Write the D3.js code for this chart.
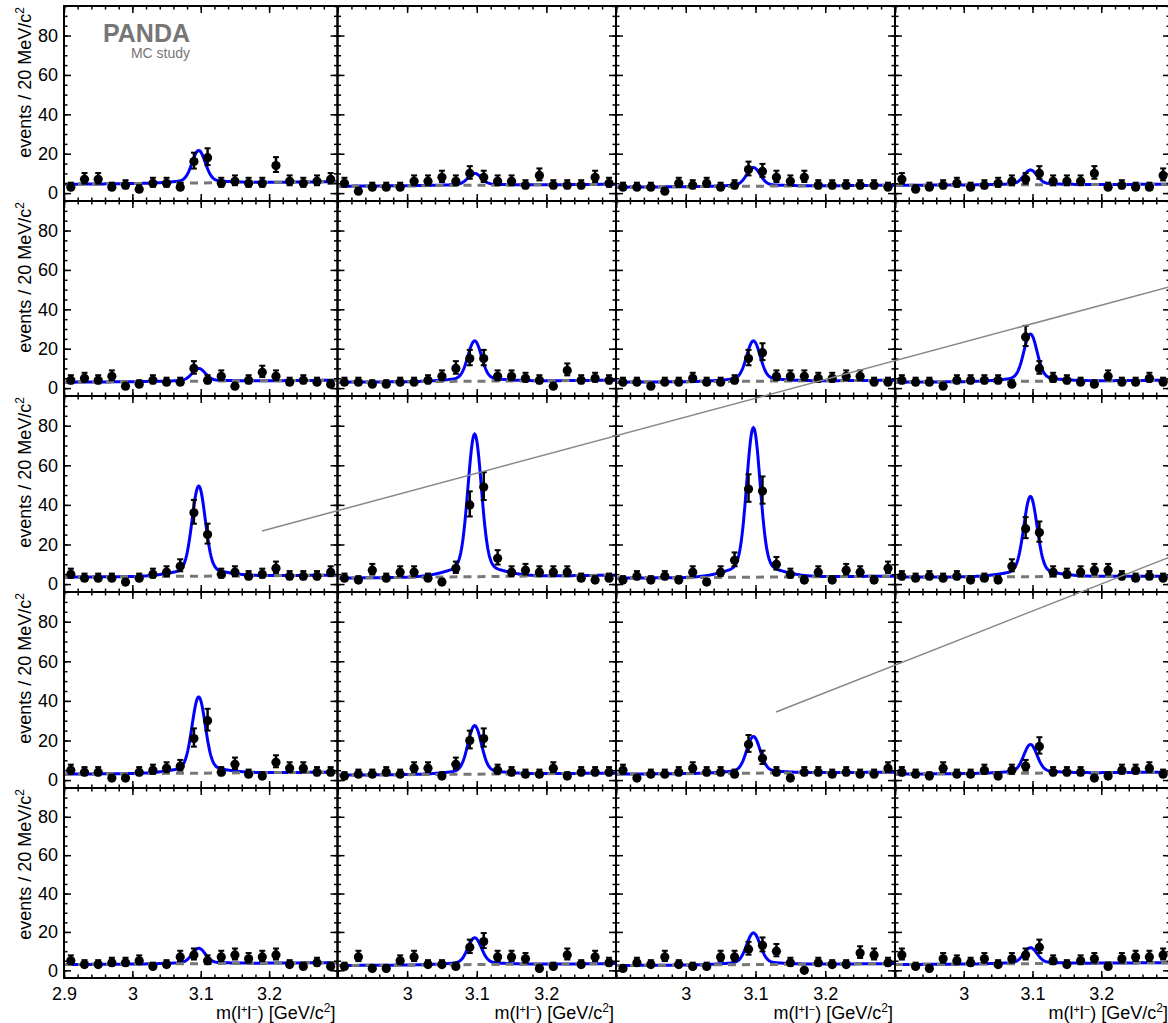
<!DOCTYPE html>
<html>
<head>
<meta charset="utf-8">
<script src="https://cdn.jsdelivr.net/npm/d3@7"></script>
<style>
  body { margin: 0; background: #fff; }
  svg { display: block; }
</style>
</head>
<body>
<div id="chart"></div>
<script>

/*******************************/
/*        Chart data           */
/*******************************/
// bin centres, 20 MeV bins from 2.9 to 3.3 GeV/c^2
const binCenters = [2.91, 2.93, 2.95, 2.97, 2.99, 3.01, 3.03, 3.05, 3.07, 3.09,
                    3.11, 3.13, 3.15, 3.17, 3.19, 3.21, 3.23, 3.25, 3.27, 3.29];

// event counts, one array per column, one block per row
const countsRow1 = [
  [3, 7, 7, 3, 4, 2, 5, 5, 3, 16, 18, 5, 6, 5, 5, 14, 6, 5, 6, 7],
  [5, 1, 3, 3, 3, 6, 6, 8, 6, 10, 8, 6, 6, 4, 9, 4, 4, 4, 8, 5],
  [3, 3, 3, 1, 5, 4, 5, 3, 4, 12, 11, 8, 6, 8, 4, 4, 4, 4, 4, 3],
  [7, 2, 3, 4, 5, 3, 4, 5, 6, 7, 10, 6, 6, 6, 10, 3, 4, 3, 3, 9]
];
const countsRow2 = [
  [4, 5, 4, 6, 1, 2, 4, 3, 3, 10, 4, 6, 1, 4, 8, 6, 3, 4, 3, 2],
  [3, 3, 2, 2, 3, 3, 4, 6, 10, 15, 15, 6, 6, 5, 4, 1, 9, 4, 5, 4],
  [3, 3, 1, 3, 3, 5, 3, 3, 4, 15, 18, 6, 6, 6, 5, 5, 6, 6, 3, 3],
  [4, 3, 3, 1, 4, 4, 4, 4, 2, 26, 10, 5, 4, 3, 2, 6, 3, 3, 5, 3]
];
const countsRow3 = [
  [5, 3, 3, 3, 1, 3, 5, 6, 9, 36, 25, 5, 6, 4, 5, 8, 4, 4, 4, 6],
  [3, 2, 7, 3, 6, 6, 3, 1, 8, 40, 49, 13, 6, 7, 6, 6, 6, 3, 2, 3],
  [2, 4, 2, 4, 2, 6, 1, 6, 12, 48, 47, 10, 5, 2, 6, 2, 7, 6, 2, 8],
  [4, 3, 4, 3, 4, 2, 3, 2, 9, 28, 26, 6, 5, 6, 7, 7, 4, 3, 4, 3]
];
const countsRow4 = [
  [5, 4, 4, 1, 1, 4, 5, 6, 7, 21, 30, 4, 8, 3, 2, 9, 6, 6, 4, 4],
  [2, 3, 3, 4, 3, 6, 6, 2, 8, 20, 21, 5, 4, 3, 3, 6, 2, 4, 4, 4],
  [5, 1, 3, 3, 4, 6, 4, 4, 3, 18, 11, 4, 1, 4, 4, 3, 4, 3, 3, 6],
  [4, 3, 2, 6, 3, 3, 5, 2, 5, 7, 17, 4, 4, 4, 1, 2, 5, 5, 6, 3]
];
const countsRow5 = [
  [5, 3, 3, 4, 4, 5, 2, 3, 7, 8, 5, 7, 8, 6, 7, 8, 3, 2, 4, 2],
  [2, 7, 1, 1, 5, 7, 3, 3, 2, 12, 15, 7, 7, 6, 1, 2, 8, 3, 7, 4],
  [1, 4, 3, 7, 3, 2, 2, 7, 7, 11, 13, 10, 4, 0, 4, 3, 3, 9, 8, 4],
  [8, 2, 1, 6, 5, 4, 6, 3, 6, 8, 12, 5, 3, 5, 6, 2, 6, 7, 7, 8]
];

// fitted signal amplitude above background (per row, per column)
const peakAmplitude = [
  [16.5, 6, 9.5, 7.5],
  [6.5, 20.5, 20.5, 24],
  [45.5, 72, 75.5, 40.5],
  [38.5, 24.5, 18.5, 14.5],
  [8, 14, 16.5, 8.3]
];
// linear background at m = 2.9 and m = 3.3
const bkgLeft = [
  [4.5, 3.5, 3, 4],
  [3, 3, 3, 3],
  [3.5, 3, 3, 3.5],
  [3, 2.5, 3, 3],
  [3, 2.5, 2.5, 3]
];
const bkgRight = [
  [5.8, 4.5, 4, 4.5],
  [4, 4, 4, 4],
  [4.5, 4.5, 4, 4],
  [4, 3.5, 4, 4],
  [4, 3.5, 3.5, 4]
];

// signal shape (double gaussian at the J/psi mass)
const jpsiMass = 3.097;
const sigmaCore = 0.0095;
const sigmaTail = 0.035;
const tailFraction = 0.08;

// ticks
const xTicksMajor = [2.9, 3.0, 3.1, 3.2, 3.3];
const xTickLabels = ["2.9", "3", "3.1", "3.2", ""];
const yTicksMajor = [0, 20, 40, 60, 80];
const xDomain = [2.9, 3.3];
const yDomain = [-4, 95];


/*******************************/
/*    Declare the constants    */
/*******************************/
const width = 1168;
const height = 1023;
const fontFamily = "'Liberation Sans', Arial, Helvetica, sans-serif";
const colLeft  = [64, 337.5, 616, 895];
const colRight = [337.5, 616, 895, 1170];
const rowTop    = [6, 201, 396, 592, 788];
const rowBottom = [201, 396, 592, 788, 978];
const lastRow = 4;

const xTicksMinor = d3.range(0, 21).map(i => 2.9 + 0.02 * i);
const yTicksMinor = d3.range(0, 96, 5);
const curveSamples = d3.range(0, 401).map(i => 2.9 + 0.001 * i);

// stray grey lines that sit on top of the figure
const overlayLines = [
  [262, 531, 1180, 284],
  [776, 712, 1180, 553]
];


/*******************************/
/*    Append the containers    */
/*******************************/
const svg = d3.select("#chart")
  .append("svg")
    .attr("width", width)
    .attr("height", height)
    .attr("viewBox", `0 0 ${width} ${height}`)
    .style("font-family", fontFamily);

svg.append("rect")
  .attr("width", width)
  .attr("height", height)
  .attr("fill", "#fff");


const styleAxis = (g) => {
  g.attr("font-family", null).attr("font-size", null);
  g.select(".domain").remove();
  g.selectAll(".tick line")
    .attr("stroke", "#000")
    .attr("stroke-width", 1.5);
  g.selectAll(".tick text")
    .attr("fill", "#000")
    .style("font-size", "18px");
};

const poissonLow = n => n === 0 ? 0 : n + 0.5 - Math.sqrt(n + 0.25);
const poissonHigh = n => n + 0.5 + Math.sqrt(n + 0.25);


/*******************************/
/*        Draw a panel         */
/*******************************/
const drawPanel = (r, c, counts) => {
  const xScale = d3.scaleLinear()
    .domain(xDomain)
    .range([colLeft[c], colRight[c]]);
  const yScale = d3.scaleLinear()
    .domain(yDomain)
    .range([rowBottom[r], rowTop[r]]);

  const panel = svg.append("g").attr("class", `panel r${r} c${c}`);

  const amp = peakAmplitude[r][c];
  const bL = bkgLeft[r][c];
  const bR = bkgRight[r][c];
  const background = m => bL + (bR - bL) * (m - xDomain[0]) / (xDomain[1] - xDomain[0]);
  const fit = m => {
    const d = m - jpsiMass;
    return background(m) + amp * ((1 - tailFraction) * Math.exp(-d * d / (2 * sigmaCore * sigmaCore))
                                 + tailFraction * Math.exp(-d * d / (2 * sigmaTail * sigmaTail)));
  };

  // fit curve
  panel.append("path")
    .datum(curveSamples)
    .attr("d", d3.line().x(d => xScale(d)).y(d => yScale(fit(d))))
    .attr("fill", "none")
    .attr("stroke", "#0000ff")
    .attr("stroke-width", 3);

  // background component
  panel.append("path")
    .datum(xDomain)
    .attr("d", d3.line().x(d => xScale(d)).y(d => yScale(background(d))))
    .attr("fill", "none")
    .attr("stroke", "#777")
    .attr("stroke-width", 3)
    .attr("stroke-dasharray", "8,6");

  // data points
  const points = panel.selectAll(".point")
    .data(counts.map((n, i) => ({m: binCenters[i], n})))
    .join("g")
      .attr("class", "point");

  points.append("line")
    .attr("x1", d => xScale(d.m))
    .attr("x2", d => xScale(d.m))
    .attr("y1", d => yScale(poissonLow(d.n)))
    .attr("y2", d => yScale(poissonHigh(d.n)))
    .attr("stroke", "#000")
    .attr("stroke-width", 2.5);
  points.append("line")
    .attr("x1", d => xScale(d.m) - 3)
    .attr("x2", d => xScale(d.m) + 3)
    .attr("y1", d => yScale(poissonHigh(d.n)))
    .attr("y2", d => yScale(poissonHigh(d.n)))
    .attr("stroke", "#000")
    .attr("stroke-width", 2);
  points.append("line")
    .attr("x1", d => xScale(d.m) - 3)
    .attr("x2", d => xScale(d.m) + 3)
    .attr("y1", d => yScale(poissonLow(d.n)))
    .attr("y2", d => yScale(poissonLow(d.n)))
    .attr("stroke", "#000")
    .attr("stroke-width", 2);
  points.append("circle")
    .attr("cx", d => xScale(d.m))
    .attr("cy", d => yScale(d.n))
    .attr("r", 4.6)
    .attr("fill", "#000");

  // axes, ticks pointing inwards on all four sides
  const x0 = colLeft[c], x1 = colRight[c];
  const y0 = rowBottom[r], y1 = rowTop[r];

  panel.append("g")
    .attr("transform", `translate(${x0},0)`)
    .call(d3.axisLeft(yScale).tickValues(yTicksMajor).tickSize(-7).tickPadding(6)
      .tickFormat(c === 0 ? d => d : ""))
    .call(styleAxis);
  panel.append("g")
    .attr("transform", `translate(${x0},0)`)
    .call(d3.axisLeft(yScale).tickValues(yTicksMinor).tickSize(-3.5).tickFormat(""))
    .call(styleAxis);
  panel.append("g")
    .attr("transform", `translate(${x1},0)`)
    .call(d3.axisRight(yScale).tickValues(yTicksMajor).tickSize(-7).tickFormat(""))
    .call(styleAxis);
  panel.append("g")
    .attr("transform", `translate(${x1},0)`)
    .call(d3.axisRight(yScale).tickValues(yTicksMinor).tickSize(-3.5).tickFormat(""))
    .call(styleAxis);

  panel.append("g")
    .attr("transform", `translate(0,${y0})`)
    .call(d3.axisBottom(xScale).tickValues(xTicksMajor).tickSize(-7).tickPadding(9)
      .tickFormat((d, i) => (r === lastRow && (c === 0 || i > 0)) ? xTickLabels[i] : ""))
    .call(styleAxis);
  panel.append("g")
    .attr("transform", `translate(0,${y0})`)
    .call(d3.axisBottom(xScale).tickValues(xTicksMinor).tickSize(-3.5).tickFormat(""))
    .call(styleAxis);
  panel.append("g")
    .attr("transform", `translate(0,${y1})`)
    .call(d3.axisTop(xScale).tickValues(xTicksMajor).tickSize(-7).tickFormat(""))
    .call(styleAxis);
  panel.append("g")
    .attr("transform", `translate(0,${y1})`)
    .call(d3.axisTop(xScale).tickValues(xTicksMinor).tickSize(-3.5).tickFormat(""))
    .call(styleAxis);

  // frame
  panel.append("rect")
    .attr("x", x0)
    .attr("y", y1)
    .attr("width", x1 - x0)
    .attr("height", y0 - y1)
    .attr("fill", "none")
    .attr("stroke", "#000")
    .attr("stroke-width", 2);
};

const allCounts = [countsRow1, countsRow2, countsRow3, countsRow4, countsRow5];
allCounts.forEach((rowCounts, r) => {
  rowCounts.forEach((counts, c) => drawPanel(r, c, counts));
});


/*******************************/
/*       Axis titles           */
/*******************************/
rowTop.forEach(top => {
  const t = svg.append("text")
    .attr("transform", `translate(31, ${top + 1}) rotate(-90)`)
    .attr("text-anchor", "end")
    .style("font-size", "18px")
    .attr("fill", "#000");
  t.append("tspan").text("events / 20 MeV/c");
  t.append("tspan").text("2").attr("baseline-shift", "super").style("font-size", "12px");
});

colRight.forEach(right => {
  const t = svg.append("text")
    .attr("x", right - 2)
    .attr("y", 1019)
    .attr("text-anchor", "end")
    .style("font-size", "18px")
    .attr("fill", "#000");
  t.append("tspan").text("m(l");
  t.append("tspan").text("+").attr("baseline-shift", "super").style("font-size", "11px");
  t.append("tspan").text("l");
  t.append("tspan").text("\u2212").attr("baseline-shift", "super").style("font-size", "11px");
  t.append("tspan").text(") [GeV/c");
  t.append("tspan").text("2").attr("baseline-shift", "super").style("font-size", "12px");
  t.append("tspan").text("]");
});


/*******************************/
/*        PANDA label          */
/*******************************/
svg.append("text")
  .attr("x", 190)
  .attr("y", 42)
  .attr("text-anchor", "end")
  .style("font-size", "25px")
  .style("font-weight", "bold")
  .attr("fill", "#767676")
  .text("PANDA");
svg.append("text")
  .attr("x", 190)
  .attr("y", 58)
  .attr("text-anchor", "end")
  .style("font-size", "14px")
  .attr("fill", "#767676")
  .text("MC study");

// overlay lines
svg.selectAll(".overlay")
  .data(overlayLines)
  .join("line")
    .attr("class", "overlay")
    .attr("x1", d => d[0])
    .attr("y1", d => d[1])
    .attr("x2", d => d[2])
    .attr("y2", d => d[3])
    .attr("stroke", "#888")
    .attr("stroke-width", 1.5);

</script>
</body>
</html>
